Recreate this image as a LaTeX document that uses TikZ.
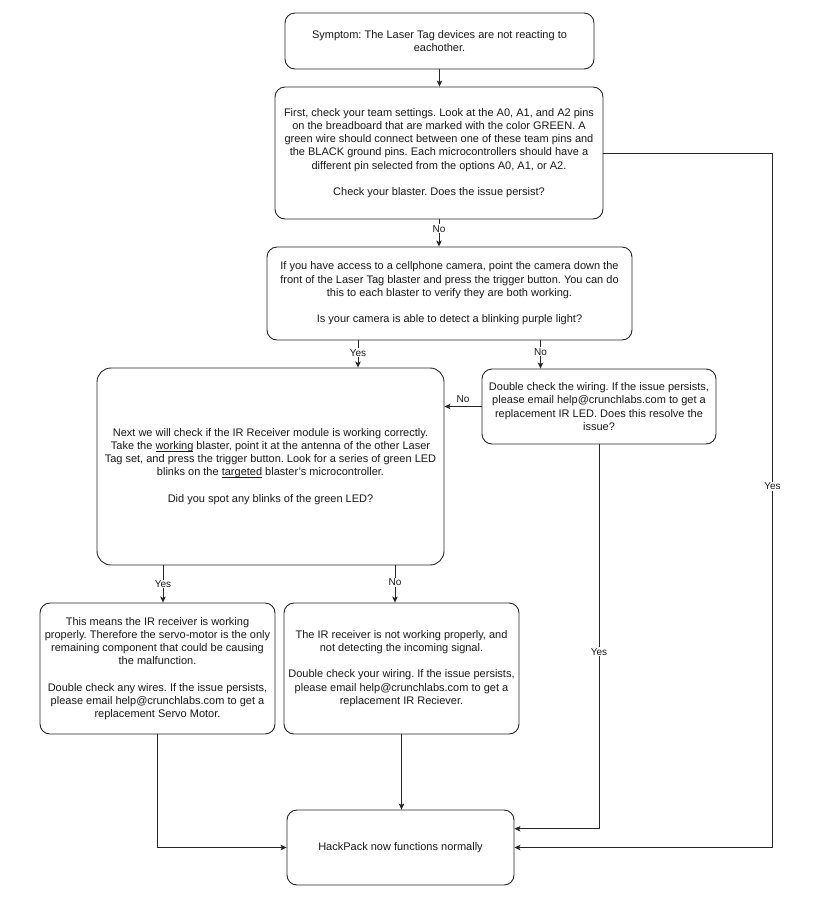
\documentclass[tikz,border=0pt]{standalone}
\usepackage{fontspec}
\setmainfont{Liberation Sans}
\usetikzlibrary{arrows.meta,calc}
\newcommand\myul[1]{\setbox0\hbox{#1}\rlap{\rule[-1.6pt]{\wd0}{0.6pt}}\box0\relax}
\frenchspacing
\begin{document}
\begin{tikzpicture}[x=1pt,y=-1pt,
  box/.style={draw=black!85, line width=0.9pt, rounded corners=10pt, align=center, inner sep=2pt,
    font=\fontsize{11}{13.2}\selectfont\frenchspacing, text=black!90},
  arr/.style={draw=black!85, line width=0.9pt, -{Stealth[length=6pt,width=5.5pt,inset=1.5pt]}},
  lbl/.style={fill=white, inner sep=1pt, font=\fontsize{10}{12}\selectfont, text=black!90}]
\useasboundingbox (0,0) rectangle (836,916);
\fill[white] (0,0) rectangle (836,916);

\node[box, minimum width=309pt, minimum height=56pt] (A) at (439.5,41)
  {Symptom: The Laser Tag devices are not reacting to\\eachother.};

\node[box, minimum width=328pt, minimum height=132pt] (B) at (439,153)
  {First, check your team settings. Look at the A0, A1, and A2 pins\\
   on the breadboard that are marked with the color GREEN. A\\
   green wire should connect between one of these team pins and\\
   the BLACK ground pins. Each microcontrollers should have a\\
   different pin selected from the options A0, A1, or A2.\\[13.2pt]
   Check your blaster. Does the issue persist?};

\node[box, minimum width=365pt, minimum height=93pt] (C) at (449.5,293.5)
  {If you have access to a cellphone camera, point the camera down the\\
   front of the Laser Tag blaster and press the trigger button. You can do\\
   this to each blaster to verify they are both working.\\[13.2pt]
   Is your camera is able to detect a blinking purple light?};

\node[box, rounded corners=14pt, minimum width=347pt, minimum height=197pt] (D) at (270.5,466.5)
  {Next we will check if the IR Receiver module is working correctly.\\
   Take the \myul{working} blaster, point it at the antenna of the other Laser\\
   Tag set, and press the trigger button. Look for a series of green LED\\
   blinks on the \myul{targeted} blaster's microcontroller.\\[13.2pt]
   Did you spot any blinks of the green LED?};

\node[box, minimum width=234pt, minimum height=75pt] (E) at (599,406.5)
  {Double check the wiring. If the issue persists,\\
   please email help@crunchlabs.com to get a\\
   replacement IR LED. Does this resolve the\\
   issue?};

\node[box, minimum width=235pt, minimum height=131pt] (F) at (157.5,668.5)
  {This means the IR receiver is working\\
   properly. Therefore the servo-motor is the only\\
   remaining component that could be causing\\
   the malfunction.\\[13.2pt]
   Double check any wires. If the issue persists,\\
   please email help@crunchlabs.com to get a\\
   replacement Servo Motor.};

\node[box, minimum width=235pt, minimum height=131pt] (G) at (401.5,668.5)
  {The IR receiver is not working properly, and\\
   not detecting the incoming signal.\\[13.2pt]
   Double check your wiring. If the issue persists,\\
   please email help@crunchlabs.com to get a\\
   replacement IR Reciever.};

\node[box, minimum width=227pt, minimum height=75pt] (H) at (400.5,847.5)
  {HackPack now functions normally};

% connectors
\draw[arr] (A.south) -- (A.south |- B.north);
\draw[arr] (B.south) -- node[lbl, pos=0.35] {No} (B.south |- C.north);
\draw[arr] ([xshift=-91.5pt]C.south) -- node[lbl, pos=0.45] {Yes} ([xshift=-91.5pt]C.south |- D.north);
\draw[arr] ([xshift=91pt]C.south) -- node[lbl, pos=0.4] {No} ([xshift=91pt]C.south |- E.north);
\draw[arr] (E.west) -- node[lbl, above=2pt, fill=none] {No} (E.west -| D.east);
\draw[arr] ([xshift=-107.5pt]D.south) -- node[lbl, pos=0.5] {Yes} ([xshift=-107.5pt]D.south |- F.north);
\draw[arr] ([xshift=124.5pt]D.south) -- node[lbl, pos=0.45] {No} ([xshift=124.5pt]D.south |- G.north);
\draw[arr] (F.south) |- (H.west);
\draw[arr] (G.south) -- (G.south |- H.north);
\draw[arr] (E.south) |- node[lbl, pos=0.27] {Yes} ([yshift=18.75pt]H.east);
\draw[arr] (B.east) -- ([xshift=169pt]B.east) |- node[lbl, pos=0.24] {Yes} (H.east);
\end{tikzpicture}
\end{document}
